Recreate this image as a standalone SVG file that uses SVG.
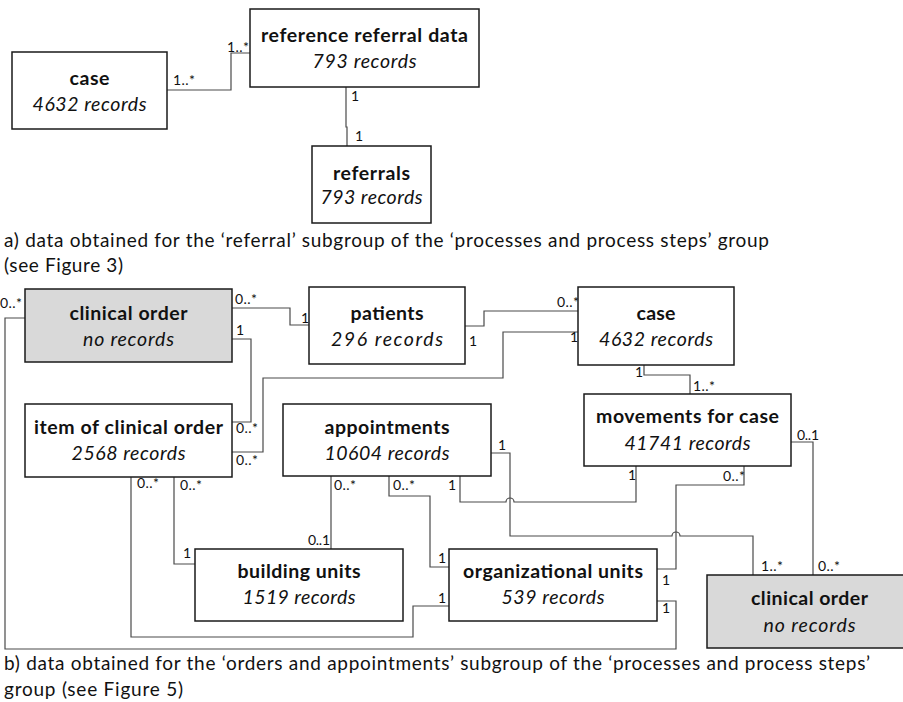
<svg xmlns="http://www.w3.org/2000/svg" width="903" height="702" viewBox="0 0 903 702">
  <style>
    .box { fill: #ffffff; stroke: #1a1a1a; stroke-width: 1.5; }
    .grey { fill: #d9d9d9; }
    .t { font-family: Lato, "Open Sans", "Liberation Sans", sans-serif; font-size: 19.5px; font-weight: bold; fill: #111; text-anchor: middle; }
    .s { font-family: Lato, "Open Sans", "Liberation Sans", sans-serif; font-size: 19.5px; font-style: italic; fill: #111; text-anchor: middle; }
    .lbl { font-family: Lato, "Open Sans", "Liberation Sans", sans-serif; font-size: 14px; fill: #111; }
    .cap { font-family: Lato, "Open Sans", "Liberation Sans", sans-serif; font-size: 19px; fill: #111; }
    .wire { fill: none; stroke: #4a4a4a; stroke-width: 1.2; }
  </style>

  <!-- connectors -->
  <g id="connectors">
    <!-- part a -->
    <path class="wire" d="M167,90 H231 V53 H250"/>
    <path class="wire" d="M346,87 V127 H347 V146"/>
    <!-- part b -->
    <path class="wire" d="M232,308 H290 V325 H309"/>
    <path class="wire" d="M232,339 H251 V422 H232"/>
    <path class="wire" d="M578,332 H503 V378 H263 V452 H232"/>
    <path class="wire" d="M465,326 H484 V311 H578"/>
    <path class="wire" d="M644,365 V375 H690 V394"/>
    <path class="wire" d="M25,318 H5 V649 H676 V601 H657"/>
    <path class="wire" d="M131,477 V637 H413 V606 H449"/>
    <path class="wire" d="M174,477 V564 H195"/>
    <path class="wire" d="M331,476 V549"/>
    <path class="wire" d="M389,476 V496 H430 V567 H449"/>
    <path class="wire" d="M460,476 V502 H506 A4,4 0 0 1 514,502 H636 V466"/>
    <path class="wire" d="M491,453 H510 V536 H672 A4,4 0 0 1 680,536 H753 V575"/>
    <path class="wire" d="M657,569 H676 V485 H744 V466"/>
    <path class="wire" d="M791,442 H813 V575"/>
  </g>

  <!-- multiplicities -->
  <g id="multiplicities" class="lbl">
    <text x="173" y="85" textLength="22">1..*</text>
    <text x="227" y="52" textLength="22">1..*</text>
    <text x="351" y="101">1</text>
    <text x="355" y="141">1</text>

    <text x="0" y="308" textLength="22">0..*</text>
    <text x="235" y="304" textLength="22">0..*</text>
    <text x="236" y="335">1</text>
    <text x="301" y="323">1</text>
    <text x="557" y="307" textLength="22">0..*</text>
    <text x="570" y="342">1</text>
    <text x="469" y="346">1</text>
    <text x="635" y="377">1</text>
    <text x="693" y="391" textLength="22">1..*</text>
    <text x="797" y="440" textLength="22">0..1</text>
    <text x="236" y="433" textLength="22">0..*</text>
    <text x="236" y="465" textLength="22">0..*</text>
    <text x="137" y="488" textLength="22">0..*</text>
    <text x="180" y="490" textLength="22">0..*</text>
    <text x="183" y="558">1</text>
    <text x="334" y="490" textLength="22">0..*</text>
    <text x="308" y="545" textLength="22">0..1</text>
    <text x="393" y="490" textLength="22">0..*</text>
    <text x="438" y="563">1</text>
    <text x="438" y="603">1</text>
    <text x="498" y="450">1</text>
    <text x="448" y="490">1</text>
    <text x="628" y="480">1</text>
    <text x="723" y="481" textLength="22">0..*</text>
    <text x="662" y="585">1</text>
    <text x="662" y="613">1</text>
    <text x="761" y="571" textLength="22">1..*</text>
    <text x="818" y="571" textLength="22">0..*</text>
  </g>

  <!-- part a nodes -->
  <g id="case-a">
    <rect class="box" x="12" y="52" width="155" height="77"/>
    <text class="t" x="89.5" y="85" textLength="40">case</text>
    <text class="s" x="89.5" y="111" textLength="114">4632 records</text>
  </g>
  <g id="reference-referral-data">
    <rect class="box" x="250" y="9" width="229" height="78"/>
    <text class="t" x="364.5" y="42" textLength="207">reference referral data</text>
    <text class="s" x="364.5" y="68" textLength="104">793 records</text>
  </g>
  <g id="referrals">
    <rect class="box" x="312" y="146" width="119" height="77"/>
    <text class="t" x="371.5" y="180" textLength="77">referrals</text>
    <text class="s" x="371.5" y="204" textLength="102">793 records</text>
  </g>

  <!-- part b nodes -->
  <g id="clinical-order-1">
    <rect class="box grey" x="25" y="289" width="207" height="73"/>
    <text class="t" x="128.5" y="320" textLength="118">clinical order</text>
    <text class="s" x="128.5" y="346" textLength="91">no records</text>
  </g>
  <g id="patients">
    <rect class="box" x="309" y="287" width="156" height="77"/>
    <text class="t" x="387" y="320" textLength="73">patients</text>
    <text class="s" x="387" y="346" textLength="112">296 records</text>
  </g>
  <g id="case-b">
    <rect class="box" x="578" y="287" width="156" height="78"/>
    <text class="t" x="656" y="320" textLength="39">case</text>
    <text class="s" x="656" y="346" textLength="114">4632 records</text>
  </g>
  <g id="item-of-clinical-order">
    <rect class="box" x="25" y="404" width="207" height="73"/>
    <text class="t" x="128.5" y="434" textLength="189">item of clinical order</text>
    <text class="s" x="128.5" y="460" textLength="114">2568 records</text>
  </g>
  <g id="appointments">
    <rect class="box" x="283" y="404" width="208" height="72"/>
    <text class="t" x="387" y="434" textLength="125">appointments</text>
    <text class="s" x="387" y="460" textLength="125">10604 records</text>
  </g>
  <g id="movements-for-case">
    <rect class="box" x="584" y="394" width="207" height="72"/>
    <text class="t" x="687.5" y="423" textLength="183">movements for case</text>
    <text class="s" x="687.5" y="450" textLength="126">41741 records</text>
  </g>
  <g id="building-units">
    <rect class="box" x="195" y="549" width="208" height="72"/>
    <text class="t" x="299" y="578" textLength="123">building units</text>
    <text class="s" x="299" y="604" textLength="113">1519 records</text>
  </g>
  <g id="organizational-units">
    <rect class="box" x="449" y="549" width="208" height="72"/>
    <text class="t" x="553" y="578" textLength="180">organizational units</text>
    <text class="s" x="553" y="604" textLength="103">539 records</text>
  </g>
  <g id="clinical-order-2">
    <rect class="box grey" x="707" y="575" width="205" height="73"/>
    <text class="t" x="809.5" y="605" textLength="117">clinical order</text>
    <text class="s" x="809.5" y="632" textLength="92">no records</text>
  </g>

  <!-- captions -->
  <g id="captions" class="cap">
    <text x="4" y="247" textLength="765">a) data obtained for the ‘referral’ subgroup of the ‘processes and process steps’ group</text>
    <text x="4" y="272" textLength="119">(see Figure 3)</text>
    <text x="4" y="670" textLength="866">b) data obtained for the ‘orders and appointments’ subgroup of the ‘processes and process steps’</text>
    <text x="4" y="696" textLength="179">group (see Figure 5)</text>
  </g>
</svg>
